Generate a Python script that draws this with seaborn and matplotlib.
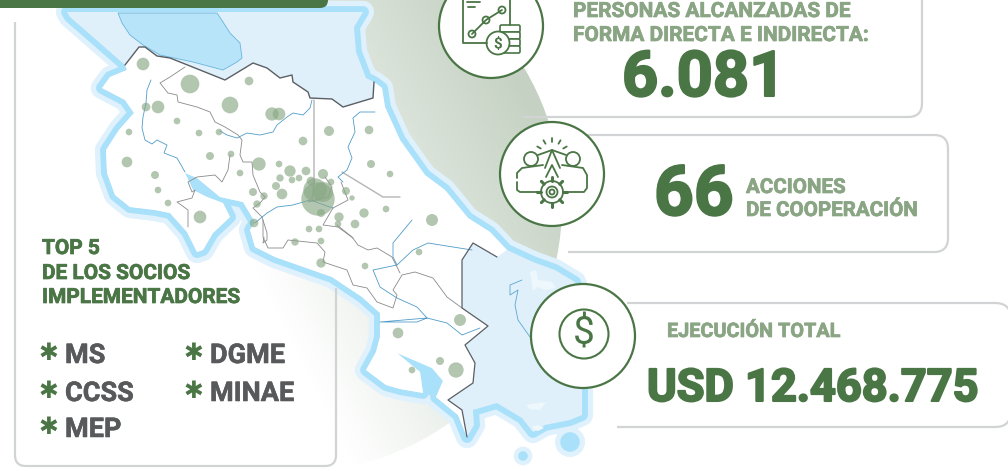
#!/usr/bin/env python3
# -*- coding: utf-8 -*-
import numpy as np
import pandas as pd
import seaborn as sns
import matplotlib.pyplot as plt
import matplotlib.patheffects as pe
from matplotlib.patches import Circle, Polygon, FancyBboxPatch

#%% text
socios_title = ['TOP 5', 'DE LOS SOCIOS', 'IMPLEMENTADORES']
socios_col1 = ['MS', 'CCSS', 'MEP']
socios_col2 = ['DGME', 'MINAE']
personas_label = ['PERSONAS ALCANZADAS DE', 'FORMA DIRECTA E INDIRECTA:']
personas_value = '6.081'
acciones_value = '66'
acciones_label = ['ACCIONES', 'DE COOPERACIÓN']
ejecucion_label = 'EJECUCIÓN TOTAL'
ejecucion_value = 'USD 12.468.775'

#%% bubbles (pixel position, bubble radius in 1/3 px)
bubble_x = [143, 190, 249, 158, 146, 230, 272, 279, 177, 129, 199, 219, 329, 369, 303, 210, 231, 127,
            259, 279, 371, 290, 306, 323, 390, 155, 240, 280, 299, 292, 311, 331, 276, 158, 253, 282,
            346, 264, 318, 315, 323, 352, 168, 257, 200, 386, 364, 339, 254, 355, 338, 309, 319, 321,
            295, 321, 321, 365, 432, 419, 460, 398, 440, 456, 412]
bubble_y = [64, 84, 81, 107, 107, 105, 114, 114, 121, 132, 133, 132, 131, 130, 141, 156, 154, 162,
            164, 164, 164, 171, 171, 174, 174, 175, 173, 178, 178, 180, 181, 182, 186, 190, 192, 194,
            191, 196, 199, 190, 192, 198, 203, 204, 217, 209, 213, 217, 223, 224, 224, 229, 229, 213,
            242, 241, 263, 266, 220, 252, 320, 333, 361, 370, 370]
bubble_r = [19, 28, 13, 19, 13, 25, 20, 19, 10, 10, 10, 10, 15, 13, 13, 12, 10, 16,
            20, 10, 12, 17, 13, 15, 10, 12, 10, 11, 10, 10, 13, 10, 12, 10, 12, 16,
            12, 11, 50, 35, 30, 8, 10, 11, 19, 10, 14, 14, 13, 13, 10, 10, 10, 12,
            11, 10, 14, 10, 18, 10, 18, 16, 12, 23, 10]
bubbles = pd.DataFrame({'x': bubble_x, 'y': bubble_y, 'value': np.array(bubble_r) ** 2})

#%% map outlines
north_border = [(125, 65), (139, 47), (145, 47), (157, 56), (170, 58), (225, 80), (253, 63), (267, 68),
                (280, 78), (292, 75), (293, 82), (308, 92), (310, 98), (332, 99), (343, 107), (373, 98), (374, 82)]
east_coast = [(382, 88), (385, 107), (400, 140), (425, 175), (445, 190), (468, 218), (490, 232), (507, 250)]
panama_border = [(497, 257), (473, 243), (462, 260), (462, 308), (488, 326), (465, 345), (475, 363),
                 (473, 383), (448, 400), (462, 410), (467, 437)]
pacific_coast = [(458, 415), (436, 397), (443, 381), (432, 368), (397, 353), (420, 372), (423, 393),
                 (400, 389), (386, 385), (366, 370), (376, 352), (380, 337), (380, 313), (362, 297),
                 (332, 277), (312, 270), (275, 257), (255, 247), (250, 230), (255, 222), (243, 202),
                 (220, 197), (197, 178), (185, 173), (193, 190), (207, 197), (223, 203), (230, 217),
                 (213, 233), (203, 250), (197, 252), (187, 232), (170, 213), (155, 210), (130, 207),
                 (115, 195), (107, 173), (106, 150), (119, 130), (134, 113), (125, 100), (102, 88),
                 (110, 77), (127, 70)]
nica_coast = [(67, 12), (363, 12), (354, 27), (356, 52), (366, 78)]
nica_west = [(93, 37), (70, 17)]
panama_coast = [(533, 262), (555, 270), (575, 282), (582, 300), (582, 415), (570, 420), (545, 425),
                (533, 432), (522, 418), (497, 403), (473, 410), (474, 425)]
golfo_dulce = [(397, 353), (432, 368), (443, 381), (436, 397), (423, 393), (420, 372)]
lake = [(118, 13), (122, 23), (130, 35), (143, 45), (160, 55), (193, 62), (223, 70), (237, 62),
        (242, 58), (240, 43), (230, 33), (223, 22), (217, 13)]
province_lines = [
    [(185, 67), (170, 77), (160, 83), (168, 93), (177, 95), (178, 102), (197, 107), (210, 112), (215, 122),
     (225, 127), (238, 135), (242, 140), (240, 155), (243, 162), (252, 162), (253, 175), (260, 192), (265, 197),
     (260, 203), (253, 208), (262, 217), (267, 233), (267, 240), (263, 243), (264, 237)],
    [(230, 155), (228, 170), (222, 182), (215, 175), (197, 177), (188, 182), (192, 192), (195, 190), (192, 198),
     (177, 202), (188, 210), (188, 227)],
    [(325, 177), (332, 187), (328, 197), (316, 200), (308, 202)],
    [(333, 208), (348, 200), (341, 182)],
    [(333, 208), (323, 225), (338, 227), (353, 238)],
    [(263, 220), (263, 237), (268, 248), (283, 248), (288, 240), (317, 243), (325, 252), (323, 262), (347, 270),
     (353, 285), (367, 288), (377, 302), (393, 308), (397, 295), (393, 290), (402, 275), (415, 272), (433, 278),
     (447, 297), (462, 308)],
    [(337, 225), (352, 237), (358, 245), (368, 250), (377, 248), (392, 257), (400, 273)],
]
heavy_lines = [
    [(314, 100), (314, 180), (312, 200)],
    [(342, 172), (383, 197), (400, 197)],
]
river_lines = [
    [(151, 80), (147, 90), (146, 103), (143, 117), (142, 128), (145, 140), (152, 144), (157, 140), (167, 145),
     (164, 153), (177, 158), (185, 172)],
    [(220, 131), (227, 135), (237, 138), (247, 133), (260, 135), (273, 132), (277, 125), (287, 117), (293, 113),
     (303, 115), (310, 108), (312, 100)],
    [(255, 223), (267, 213), (277, 207), (293, 205), (310, 200), (330, 207), (333, 208)],
    [(375, 112), (360, 112), (353, 118), (355, 132), (348, 147), (352, 158), (347, 170), (338, 177), (343, 182)],
    [(412, 220), (393, 243), (393, 257), (397, 265), (373, 270), (380, 287), (397, 298), (417, 307), (427, 318),
     (380, 322), (417, 322), (427, 318), (447, 323), (462, 335), (480, 328)],
    [(397, 265), (413, 250), (428, 243), (453, 247), (472, 250)],
]
panama_river = [(522, 280), (510, 285), (510, 295), (518, 290), (515, 305), (518, 320), (530, 337)]
panama_islands = [[(530, 272), (536, 270), (538, 280), (552, 282), (556, 288), (545, 290), (537, 287), (533, 291)],
                  [(526, 405), (538, 403), (546, 402), (540, 410), (530, 409)],
                  [(532, 426), (539, 425), (544, 428), (538, 431), (534, 430)]]

colour_green = '#4a7545'
colour_green_light = '#8aa584'
colour_grey = '#58595b'
colour_line = '#d1d3d4'
font = 'Roboto'


def rounded_line(ax, points, r):
    # open polyline with rounded corners
    pts = np.array(points, dtype = float)
    out = [pts[0]]
    for a, b, c in zip(pts[:-2], pts[1:-1], pts[2:]):
        p0 = b + (a - b) / np.linalg.norm(a - b) * r
        p2 = b + (c - b) / np.linalg.norm(c - b) * r
        for t in np.linspace(0, 1, 12):
            out.append((1 - t) ** 2 * p0 + 2 * t * (1 - t) * b + t ** 2 * p2)
    out.append(pts[-1])
    out = np.array(out)
    ax.plot(out[:, 0], out[:, 1], color = colour_line, lw = 1.6, solid_capstyle = 'butt', zorder = 5)


def icon_line(ax, points, lw = 1.3):
    pts = np.array(points, dtype = float)
    ax.plot(pts[:, 0], pts[:, 1], color = colour_green, lw = lw, solid_capstyle = 'round', zorder = 12)


def icon_ring(ax, x, y, r, lw = 1.3, fc = 'white'):
    ax.add_patch(Circle((x, y), r, fc = fc, ec = colour_green, lw = lw, zorder = 11))


def label(ax, x, y, txt, colour, size, stroke):
    ax.text(x, y, txt, color = colour, fontsize = size, fontweight = 'bold', va = 'baseline', zorder = 13,
            path_effects = [pe.withStroke(linewidth = stroke, foreground = colour)])


#%% figure
sns.set_theme(style = 'white')
plt.rcParams['font.family'] = [font, 'DejaVu Sans']

fig = plt.figure(figsize = (10.08, 4.71), dpi = 100)
ax = fig.add_axes([0, 0, 1, 1])
ax.axis('off')

# background disc with gradient
cmap = sns.blend_palette(['#ffffff', '#c5d2c3'], as_cmap = True)
gx, gy = np.meshgrid(np.arange(0, 600), np.arange(0, 480))
im = ax.imshow((gx - 0.5 * gy - 120) / 360, extent = (0, 600, 480, 0), cmap = cmap, vmin = 0, vmax = 1, zorder = 1)
disc = Circle((295, 205), 267, transform = ax.transData)
im.set_clip_path(disc)

# left card
rounded_line(ax, [(15, 22), (15, 466), (336, 466), (336, 288)], 11)

# map
region = nica_coast + north_border[-1:] + east_coast + panama_coast + [panama_border[-1]] + pacific_coast + north_border[:1] + nica_west
land = north_border + east_coast + panama_border + pacific_coast
for colour, width in [('#dff1fc', 16), ('#a9e0fa', 8.5)]:
    ax.add_patch(Polygon(region, closed = True, fc = 'none', ec = colour, lw = width, joinstyle = 'round', zorder = 2))
for cx, cy, r, rings in [(570, 442, 8, (10, 5)), (523, 456, 3, (9, 5))]:
    ax.add_patch(Circle((cx, cy), r, fc = '#dff1fc', ec = '#dff1fc', lw = rings[0], zorder = 2))
    ax.add_patch(Circle((cx, cy), r, fc = '#a9e0fa', ec = '#a9e0fa', lw = rings[1] * 0.5, zorder = 2))
ax.add_patch(Polygon(golfo_dulce, closed = True, fc = '#a9e0fa', ec = 'none', zorder = 2))
ax.add_patch(Polygon(region, closed = True, fc = '#dff0fb', ec = 'none', zorder = 3))
ax.add_patch(Polygon(lake, closed = True, fc = '#b8e4fa', ec = '#6ab4dc', lw = 0.6, zorder = 3))
for isl in panama_islands:
    ax.add_patch(Polygon(isl, closed = True, fc = '#eef7fc', ec = 'none', zorder = 3))
ax.plot(*zip(*panama_river), color = '#5aa7d0', lw = 0.6, zorder = 3)
ax.add_patch(Polygon(land, closed = True, fc = 'white', ec = 'none', zorder = 3))

for line in province_lines:
    ax.plot(*zip(*line), color = '#8a8a8a', lw = 0.6, zorder = 4)
for line in heavy_lines:
    ax.plot(*zip(*line), color = '#b5b5b5', lw = 1.0, zorder = 4)
for line in river_lines:
    ax.plot(*zip(*line), color = '#4f9cc9', lw = 0.6, zorder = 4)
ax.plot(*zip(*north_border), color = '#5a5f63', lw = 1.0, zorder = 4)
ax.plot(*zip(*panama_border), color = '#5a5f63', lw = 0.9, zorder = 4)

# bubbles (s in pt^2 for a radius in 1/3 px at dpi 100)
k = 0.2304
vmin, vmax = bubbles['value'].min(), bubbles['value'].max()
sns.scatterplot(data = bubbles, x = 'x', y = 'y', size = 'value', sizes = (k * vmin, k * vmax),
                size_norm = (vmin, vmax), color = '#8aa886', alpha = 0.65, linewidth = 0,
                legend = False, ax = ax, zorder = 6)

# top bar
ax.add_patch(FancyBboxPatch((-20, -30), 340, 30, boxstyle = 'round,pad=8,rounding_size=8',
                            fc = colour_green, ec = 'none', zorder = 7))

# right cards
rounded_line(ax, [(523, 117), (922, 117), (922, -20)], 14)
rounded_line(ax, [(587, 135), (948, 135), (948, 252), (568, 252)], 14)
rounded_line(ax, [(627, 303), (1011, 303), (1011, 427), (617, 427)], 16)

# icon 1
icon_ring(ax, 491, 26, 52, lw = 1.6)
icon_line(ax, [(463, -5), (463, 43), (487, 43)])
icon_line(ax, [(510, -5), (510, 25)])
icon_line(ax, [(467, 2), (480, 2)])
icon_line(ax, [(468, 7), (475, 7)])
icon_line(ax, [(472, 34), (486, 20), (502, 10)])
for cx, cy in [(472, 34), (486, 20), (502, 10)]:
    icon_ring(ax, cx, cy, 3.5)
for cy in [25, 32, 39, 46]:
    ax.add_patch(FancyBboxPatch((500, cy), 20, 7, boxstyle = 'round,pad=0,rounding_size=1.5', fc = 'white',
                                ec = colour_green, lw = 1.2, zorder = 11))
icon_ring(ax, 498, 43, 11.5)
ax.text(498, 43.5, '$', color = colour_green, fontsize = 11, fontweight = 'bold', ha = 'center', va = 'center', zorder = 13)

# icon 2
icon_ring(ax, 552, 174, 52, lw = 1.6)
icon_ring(ax, 531, 159, 7)
icon_ring(ax, 573, 159, 7)
icon_line(ax, [(543, 165), (522, 168), (517, 173), (517, 178)])
icon_line(ax, [(517, 182), (517, 190), (520, 192), (537, 192)])
icon_line(ax, [(562, 165), (583, 168), (587, 175), (587, 188), (584, 192), (568, 192)])
icon_line(ax, [(545, 168), (552, 150), (560, 168)])
icon_line(ax, [(538, 155), (552, 150), (566, 155)])
icon_line(ax, [(546, 177), (552, 165), (558, 177)])
for ang in np.deg2rad([-150, -120, -90, -60, -30]):
    icon_line(ax, [(552 + 13 * np.cos(ang), 155 + 13 * np.sin(ang)), (552 + 17 * np.cos(ang), 155 + 17 * np.sin(ang))])
icon_ring(ax, 552, 192, 11)
icon_ring(ax, 552, 192, 5.5)
icon_ring(ax, 552, 192, 2.5)
for ang in np.deg2rad(np.arange(0, 360, 45)):
    icon_line(ax, [(552 + 11 * np.cos(ang), 192 + 11 * np.sin(ang)), (552 + 15 * np.cos(ang), 192 + 15 * np.sin(ang))], lw = 2.2)

# icon 3
icon_ring(ax, 583, 336, 52, lw = 1.6)
icon_ring(ax, 584, 334, 24.5, lw = 1.5)
ax.text(584, 334, '$', color = colour_green, fontsize = 28, ha = 'center', va = 'center', zorder = 13)

#%% text
for txt, y in zip(socios_title, [254, 279, 303]):
    label(ax, 42, y, txt, colour_green, 15, 0.5)
for col_x, col, ys in [(65, socios_col1, [363, 401, 437]), (210, socios_col2, [363, 401])]:
    for txt, y in zip(col, ys):
        label(ax, col_x, y, txt, colour_grey, 19.5, 0.4)
        ax.text(col_x - 17, y - 10, '\u2731', color = colour_green, fontsize = 17, family = 'DejaVu Sans',
                fontweight = 'bold', ha = 'center', va = 'center', zorder = 13)

for txt, y in zip(personas_label, [17, 41]):
    label(ax, 573, y, txt, colour_green_light, 15, 0.5)
label(ax, 622, 96, personas_value, colour_green, 45.5, 1.5)
label(ax, 654, 215, acciones_value, colour_green, 50, 1.5)
for txt, y in zip(acciones_label, [193, 216]):
    label(ax, 746, y, txt, colour_green_light, 14.8, 0.5)
label(ax, 667, 337, ejecucion_label, colour_green_light, 14.3, 0.5)
label(ax, 647, 401, ejecucion_value, colour_green, 32.5, 1.5)

ax.set_xlim(0, 1008)
ax.set_ylim(471, 0)
ax.set_xlabel('')
ax.set_ylabel('')
ax.set_aspect('auto')

fig.savefig('out.png', dpi = 100)
